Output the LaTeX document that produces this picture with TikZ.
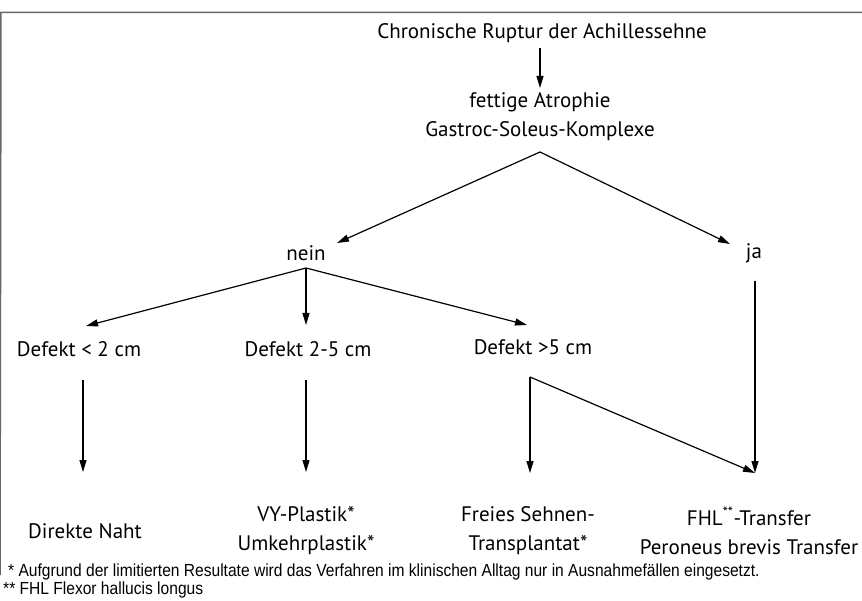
\documentclass[tikz,border=0pt]{standalone}
\usepackage{fontspec}
\setmainfont{PT Sans}
\newfontfamily\notefont[FakeStretch=0.89]{Liberation Sans}
\usetikzlibrary{arrows.meta}

\tikzset{
  txt/.style={align=center, font=\fontsize{21}{29}\selectfont, inner sep=0pt},
  note/.style={anchor=west, font=\notefont\fontsize{17.5}{18}\selectfont, inner sep=0pt},
  arr/.style={line width=1.2pt, -{Triangle[length=12pt,width=7pt]}},
}

\begin{document}
\begin{tikzpicture}[x=1pt,y=-1pt]
\useasboundingbox (0,0) rectangle (862,601);

% frame (top and left only)
\draw [gray!80!black, line width=1.5pt] (0,575) -- (1,12.5) -- (862,12.5);

% top of the tree
\node[txt] (chron) at (542,33) {Chronische Ruptur der Achillessehne};
\node[txt] (fett) at (540,117) {fettige Atrophie\\Gastroc-Soleus-Komplexe};
\node[txt] (nein) at (306,253) {nein};
\node[txt] (ja) at (754,253) {ja};

\coordinate (split1) at (540,152);
\coordinate (tipnein) at (337,243);
\coordinate (tipja) at (730,244);

% defects
\node[txt] (def2) at (79,349) {Defekt < 2 cm};
\node[txt] (def25) at (308,349) {Defekt 2-5 cm};
\node[txt] (def5) at (533,347) {Defekt >5 cm};

\coordinate (split2) at (306,268);
\coordinate (tipd2) at (86,326);
\coordinate (tipd5) at (527,325);

% treatments
\node[txt] (naht) at (85,531) {Direkte Naht};
\node[txt] (vy) at (306,531) {VY-Plastik*\\Umkehrplastik*};
\node[txt] (frei) at (528,531) {Freies Sehnen-\\Transplantat*};
\node[txt] (fhl) at (749,531) {FHL\textsuperscript{**}-Transfer\\Peroneus brevis Transfer};

\coordinate (split3) at (530,377);
\coordinate (tipfhl) at (755,473);

%Arrows
\draw [arr] (540,48) -- (540,88);
\draw [arr] (split1) -- (tipnein);
\draw [arr] (split1) -- (tipja);
\draw [arr] (split2) -- (tipd2);
\draw [arr] (split2) -- (306,325);
\draw [arr] (split2) -- (tipd5);

\draw [arr] (83,380) -- (83,472);
\draw [arr] (306,380) -- (306,472);
\draw [arr] (split3) -- (530,473);
\draw [arr] (split3) -- (tipfhl);
\draw [arr] (755,281) -- (tipfhl);

% footnotes
\node[note] (fn1) at (8,572) {* Aufgrund der limitierten Resultate wird das Verfahren im klinischen Alltag nur in Ausnahmefällen eingesetzt.};
\node[note] (fn2) at (3,590) {** FHL Flexor hallucis longus};

\end{tikzpicture}
\end{document}
